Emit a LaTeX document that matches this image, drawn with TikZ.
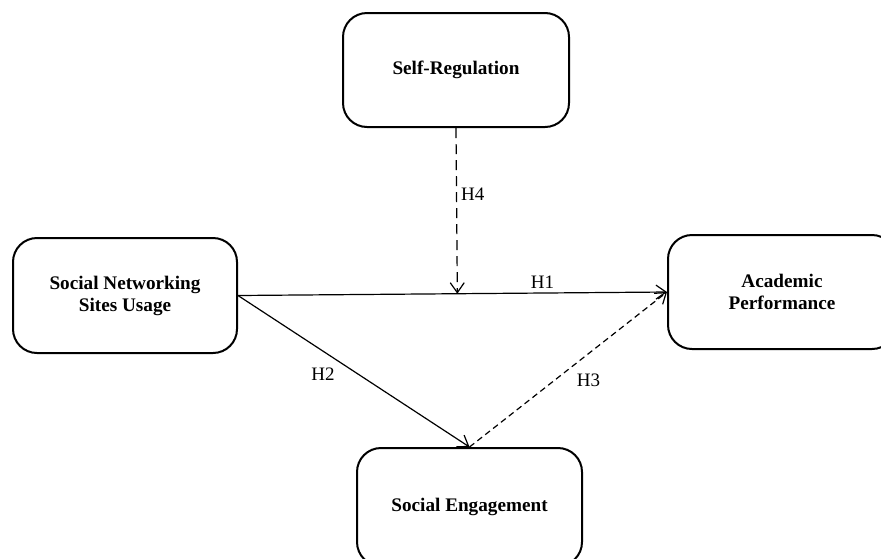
\documentclass[tikz,border=0pt]{standalone}
\usepackage{fontspec}
\setmainfont{Liberation Serif}
\usepackage{tikz}
\usetikzlibrary{arrows.meta, positioning, calc}

\begin{document}
\begin{tikzpicture}[x=0.5pt, y=-0.5pt,
    construct/.style={draw, line width=1pt, rounded corners=12pt, align=center,
        font=\fontsize{9.6}{11}\selectfont\bfseries, inner sep=0pt},
    path/.style={line width=0.6pt, -{Straight Barb[length=5pt, width=7pt]}},
    hyp/.style={font=\fontsize{9.5}{11}\selectfont, inner sep=2pt}]
    \useasboundingbox (0,0) rectangle (881,558);

    % Constructs
    \node[construct, minimum width=113pt, minimum height=57pt] (sr) at (456,70) {Self-Regulation};
    \node[construct, minimum width=112pt, minimum height=57.5pt] (sns) at (125,295.5) {Social Networking\\Sites Usage};
    \node[construct, minimum width=114pt, minimum height=57pt] (ap) at (782,292) {Academic\\Performance};
    \node[construct, minimum width=112.5pt, minimum height=59pt] (se) at (469.5,507) {Social Engagement};

    % Moderation point on the direct path
    \coordinate (mod) at ($(sns.east)!(sr.south)!(ap.west)$);

    % Hypothesised paths
    \draw[path] (sns.east) -- (ap.west) node[hyp, pos=0.71, above] {H1};
    \draw[path] (sns.east) -- (se.north) node[hyp, pos=0.42, below left=2pt and -2pt] {H2};
    \draw[path, densely dashed] (se.north) -- (ap.west) node[hyp, pos=0.5, below right=0pt and 2pt] {H3};
    \draw[path, dash pattern=on 5pt off 3pt] (sr.south) -- (mod) node[hyp, pos=0.4, right=0pt] {H4};
\end{tikzpicture}
\end{document}
